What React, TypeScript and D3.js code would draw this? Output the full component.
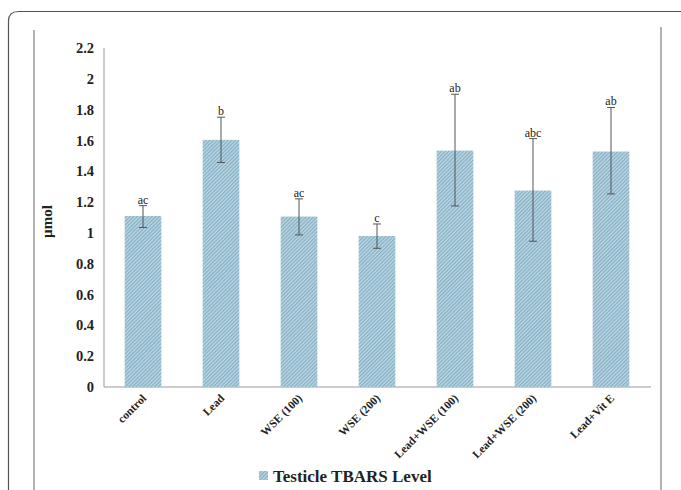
import React from "react";
import * as d3 from "d3";

const categories = ["control", "Lead", "WSE (100)", "WSE (200)", "Lead+WSE (100)", "Lead+WSE (200)", "Lead+Vit E"];
const values = [1.11, 1.604, 1.106, 0.98, 1.534, 1.275, 1.528];
const errUpper = [1.177, 1.751, 1.221, 1.058, 1.9, 1.612, 1.814];
const errLower = [1.035, 1.457, 0.987, 0.9, 1.175, 0.946, 1.253];
const letters = ["ac", "b", "ac", "c", "ab", "abc", "ab"];
const yTicks = [0, 0.2, 0.4, 0.6, 0.8, 1, 1.2, 1.4, 1.6, 1.8, 2, 2.2];
const seriesName = "Testicle TBARS Level";

export default function App() {
  const W = 681, H = 490;
  const x = d3.scaleBand().domain(categories).range([104, 650]).paddingInner(0.53).paddingOuter(0.265);
  const y = d3.scaleLinear().domain([0, 2.2]).range([387, 48]);
  const serif = "Liberation Serif, DejaVu Serif, serif";
  const fmt = (v: number) => (Math.round(v * 10) / 10).toString();
  return (
    <svg width={W} height={H} style={{ position: "absolute", left: 0, top: 0, background: "#fff" }}>
      <defs>
        <pattern id="hatch" width="2.6" height="2.6" patternUnits="userSpaceOnUse" patternTransform="rotate(45)">
          <rect width="2.6" height="2.6" fill="#bdd8e4" />
          <rect width="1.2" height="2.6" fill="#82adc2" />
        </pattern>
      </defs>
      <rect x={0} y={0} width={W} height={H} fill="#fff" />
      <path d={`M8.5,${H} L8.5,21 Q8.5,11.5 18.5,11.5 L${W + 5},11.5`} fill="none" stroke="#555" strokeWidth={1.2} />
      <line x1={34} x2={34} y1={30} y2={H} stroke="#666" strokeWidth={1} />
      <line x1={661} x2={661} y1={27} y2={H} stroke="#666" strokeWidth={1} />
      <line x1={104} x2={104} y1={y(2.2)} y2={y(0)} stroke="#999" strokeWidth={1} />
      <line x1={104} x2={651} y1={y(0)} y2={y(0)} stroke="#999" strokeWidth={1} />
      {yTicks.map((t) => (
        <text key={t} x={94} y={y(t)} dy="0.35em" textAnchor="end" style={{ fontFamily: serif, fontWeight: "bold", fontSize: 14.5 }} fill="#222">
          {fmt(t)}
        </text>
      ))}
      <text transform={`translate(52,${(y(0) + y(2.2)) / 2 + 4}) rotate(-90)`} textAnchor="middle" style={{ fontFamily: serif, fontWeight: "bold", fontSize: 15 }} fill="#222">
        µmol
      </text>
      {categories.map((c, i) => {
        const bx = x(c)!;
        const cx = bx + x.bandwidth() / 2;
        return (
          <g key={c}>
            <rect x={bx} y={y(values[i])} width={x.bandwidth()} height={y(0) - y(values[i])} fill="url(#hatch)" />
            <line x1={cx} x2={cx} y1={y(errUpper[i])} y2={y(errLower[i])} stroke="#555" strokeWidth={1} />
            <line x1={cx - 4} x2={cx + 4} y1={y(errUpper[i])} y2={y(errUpper[i])} stroke="#555" strokeWidth={1} />
            <line x1={cx - 4} x2={cx + 4} y1={y(errLower[i])} y2={y(errLower[i])} stroke="#555" strokeWidth={1} />
            <text x={cx} y={y(errUpper[i]) - 2} textAnchor="middle" style={{ fontFamily: serif, fontSize: 12 }} fill="#222">
              {letters[i]}
            </text>
            <text transform={`translate(${cx + 4},${y(0) + 12}) rotate(-45)`} textAnchor="end" style={{ fontFamily: serif, fontWeight: "bold", fontSize: 11.5 }} fill="#222">
              {c}
            </text>
          </g>
        );
      })}
      <rect x={259} y={471} width={9} height={9} fill="url(#hatch)" />
      <text x={273} y={482} style={{ fontFamily: serif, fontWeight: "bold", fontSize: 17 }} fill="#222">
        {seriesName}
      </text>
    </svg>
  );
}
